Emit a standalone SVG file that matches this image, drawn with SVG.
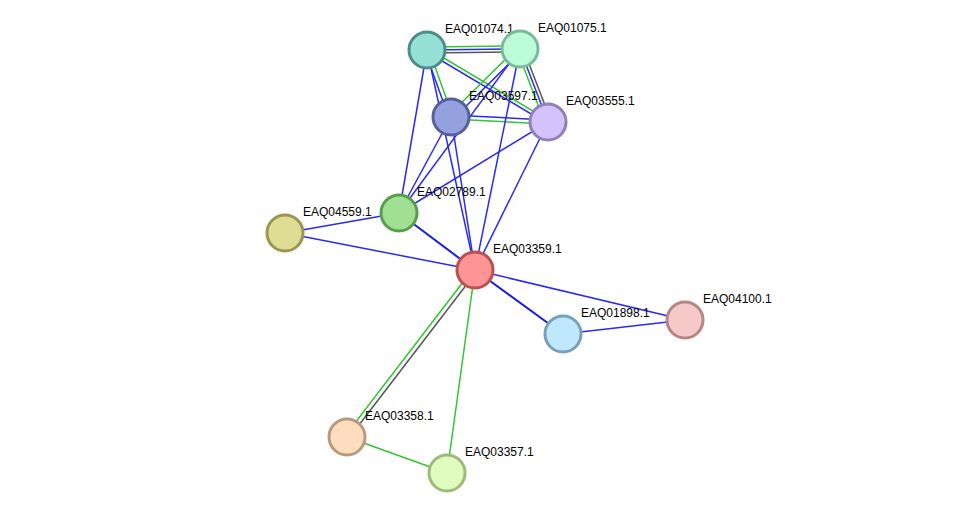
<svg xmlns="http://www.w3.org/2000/svg" width="976" height="519" viewBox="0 0 976 519">
<style>
.b{stroke:#2a2af0;stroke-width:1.5;fill:none}
.bt{stroke:#1a1ae0;stroke-width:2;fill:none}
.g{stroke:#33c533;stroke-width:1.5;fill:none}
.k{stroke:#555;stroke-width:1.5;fill:none}
circle{stroke-width:3}
text{font-family:"Liberation Sans",Arial,sans-serif;font-size:12px;fill:#000}
</style>
<rect width="976" height="519" fill="#fff"/>
<g id="edges">
<line class="g" x1="427" y1="47" x2="520" y2="46"/><line class="b" x1="427" y1="50" x2="520" y2="49"/><line class="k" x1="427" y1="53" x2="520" y2="52"/>
<line class="b" x1="425" y1="51" x2="449" y2="118"/><line class="g" x1="429" y1="50" x2="453" y2="117"/>
<line class="g" x1="427" y1="48" x2="548" y2="120"/><line class="b" x1="427" y1="52" x2="548" y2="124"/>
<line class="g" x1="518" y1="47" x2="449" y2="115"/><line class="b" x1="522" y1="51" x2="453" y2="119"/>
<line class="g" x1="517" y1="50" x2="545" y2="123"/><line class="b" x1="520" y1="49" x2="548" y2="122"/><line class="k" x1="523" y1="48" x2="551" y2="121"/>
<line class="b" x1="451" y1="115" x2="548" y2="120"/><line class="g" x1="451" y1="119" x2="548" y2="124"/>
<line class="b" x1="427" y1="50" x2="399" y2="213"/>
<line class="b" x1="520" y1="49" x2="399" y2="213"/>
<line class="b" x1="520" y1="49" x2="475" y2="270"/>
<line class="b" x1="451" y1="117" x2="399" y2="213"/>
<line class="b" x1="451" y1="117" x2="475" y2="270"/>
<line class="b" x1="427" y1="50" x2="475" y2="270"/>
<line class="b" x1="548" y1="122" x2="399" y2="213"/>
<line class="b" x1="548" y1="122" x2="475" y2="270"/>
<line class="b" x1="399" y1="213" x2="285" y2="233"/>
<line class="bt" x1="399" y1="213" x2="475" y2="270"/>
<line class="b" x1="285" y1="233" x2="475" y2="270"/>
<line class="bt" x1="475" y1="270" x2="563" y2="334"/>
<line class="b" x1="475" y1="270" x2="685" y2="320"/>
<line class="b" x1="563" y1="334" x2="685" y2="320"/>
<line class="g" x1="473" y1="269" x2="345" y2="436"/><line class="k" x1="477" y1="271" x2="349" y2="438"/>
<line class="g" x1="475" y1="270" x2="447" y2="473"/>
<line class="g" x1="347" y1="437" x2="447" y2="473"/>
</g>
<g id="n01074"><circle cx="427" cy="50" r="18" fill="#95dfd5" stroke="#4a8f87"/><text x="445" y="33">EAQ01074.1</text></g>
<g id="n01075"><circle cx="520" cy="49" r="18" fill="#bdfcd8" stroke="#77bb98"/><text x="538" y="32">EAQ01075.1</text></g>
<g id="n03597"><circle cx="451" cy="117" r="18" fill="#95a0de" stroke="#55609a"/><text x="469" y="100">EAQ03597.1</text></g>
<g id="n03555"><circle cx="548" cy="122" r="18" fill="#d4c2fc" stroke="#9080bb"/><text x="566" y="105">EAQ03555.1</text></g>
<g id="n02789"><circle cx="399" cy="213" r="18" fill="#a0e093" stroke="#5c9a50"/><text x="417" y="196">EAQ02789.1</text></g>
<g id="n04559"><circle cx="285" cy="233" r="18" fill="#dfdd95" stroke="#9a9850"/><text x="303" y="216">EAQ04559.1</text></g>
<g id="n03359"><circle cx="475" cy="270" r="18" fill="#fe9595" stroke="#bb5050"/><text x="493" y="253">EAQ03359.1</text></g>
<g id="n01898"><circle cx="563" cy="334" r="18" fill="#c0e8fc" stroke="#78a0bb"/><text x="581" y="317">EAQ01898.1</text></g>
<g id="n04100"><circle cx="685" cy="320" r="18" fill="#f7c8c8" stroke="#b88585"/><text x="703" y="303">EAQ04100.1</text></g>
<g id="n03358"><circle cx="347" cy="437" r="18" fill="#fedcc0" stroke="#bb9a7c"/><text x="365" y="420">EAQ03358.1</text></g>
<g id="n03357"><circle cx="447" cy="473" r="18" fill="#e0fcbf" stroke="#9dbb78"/><text x="465" y="456">EAQ03357.1</text></g>
</svg>
